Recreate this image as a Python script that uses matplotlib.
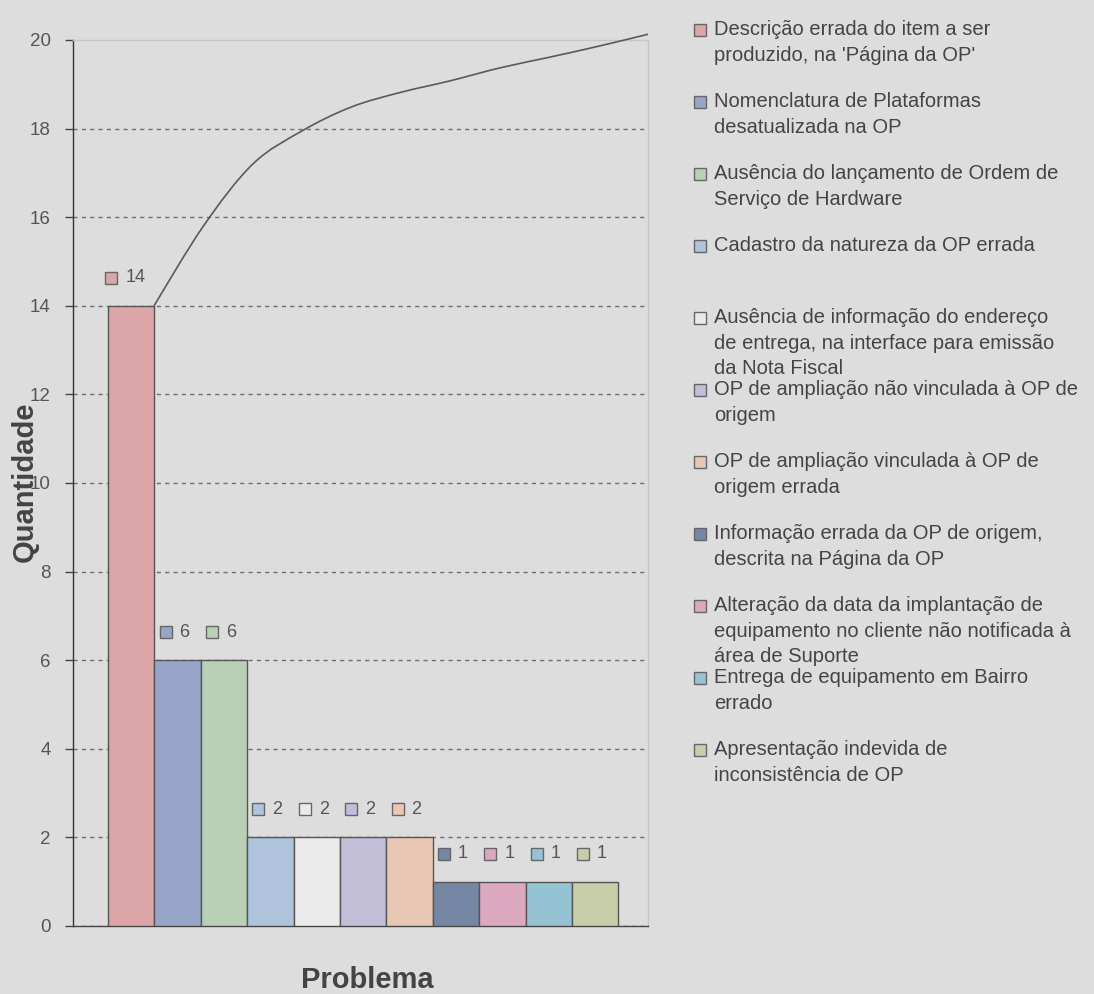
import matplotlib
matplotlib.use("Agg")
import numpy as np
import matplotlib.pyplot as plt
import matplotlib.transforms as mtransforms
from matplotlib.patches import Rectangle, PathPatch
from matplotlib.path import Path

plt.rcParams['font.family'] = ['Liberation Sans', 'DejaVu Sans']

# problemas encontrados e quantidade de ocorrencias
problemas = [
    "Descrição errada do item a ser\nproduzido, na 'Página da OP'",
    "Nomenclatura de Plataformas\ndesatualizada na OP",
    "Ausência do lançamento de Ordem de\nServiço de Hardware",
    "Cadastro da natureza da OP errada",
    "Ausência de informação do endereço\nde entrega, na interface para emissão\nda Nota Fiscal",
    "OP de ampliação não vinculada à OP de\norigem",
    "OP de ampliação vinculada à OP de\norigem errada",
    "Informação errada da OP de origem,\ndescrita na Página da OP",
    "Alteração da data da implantação de\nequipamento no cliente não notificada à\nárea de Suporte",
    "Entrega de equipamento em Bairro\nerrado",
    "Apresentação indevida de\ninconsistência de OP",
]
quantidade = [14, 6, 6, 2, 2, 2, 2, 1, 1, 1, 1]
cores = ['#dca5a8', '#96a5c8', '#b9d0b6', '#afc3dc', '#eaeaea', '#c3bed7',
         '#e8c8b4', '#7687a5', '#dca8c0', '#96c3d4', '#c8cdaa']

# curva acumulada (eixo secundario)
curva = [14.0, 15.8, 17.2, 17.95, 18.49, 18.82, 19.08, 19.37, 19.61, 19.86, 20.13]


def linha_suave(xs, ys):
    # curva de Bezier passando pelos pontos (tangentes tipo Catmull-Rom)
    p = np.column_stack([xs, ys]).astype(float)
    verts = [p[0]]
    codes = [Path.MOVETO]
    n = len(p)
    for i in range(n - 1):
        a = p[i - 1] if i > 0 else p[i]
        b, c = p[i], p[i + 1]
        d = p[i + 2] if i + 2 < n else p[i + 1]
        verts += [b + (c - a) / 6, c - (d - b) / 6, c]
        codes += [Path.CURVE4] * 3
    return Path(verts, codes)


W, H = 1094, 994
fundo = '#dddddd'
fig = plt.figure(figsize=(W / 100, H / 100), dpi=100, facecolor=fundo)
ax = fig.add_axes([73 / W, (H - 926) / H, (648 - 73) / W, (926 - 40) / H])
ax.set_facecolor(fundo)

x = range(len(quantidade))
ax.bar(x, quantidade, width=1.0, color=cores, edgecolor='#555555', linewidth=1.0, zorder=3)
ax.set_xlim(-1.254, 11.14)
ax.set_ylim(0, 20)
ax.set_yticks(range(0, 21, 2))
ax.set_xticks([])

ax.yaxis.grid(True, color='#6e6e6e', linestyle=(0, (3, 3)), linewidth=1.0, zorder=1)
ax.get_ygridlines()[-1].set_visible(False)
ax.tick_params(axis='y', direction='out', length=6, width=1, color='#444444',
               labelcolor='#555555', labelsize=13.5, pad=10)

ax.spines['left'].set_color('#333333')
ax.spines['bottom'].set_color('#444444')
ax.spines['top'].set_color('#c6c6c6')
ax.spines['right'].set_color('#c6c6c6')
for s in ax.spines.values():
    s.set_linewidth(1.0)

# rotulos de dados com a chave de cor
for i, v in enumerate(quantidade):
    extra = 8 * (len(str(v)) - 1)
    off_m = mtransforms.offset_copy(ax.transData, fig=fig, x=-12 - extra, y=28, units='dots')
    off_t = mtransforms.offset_copy(ax.transData, fig=fig, x=2 - extra, y=28, units='dots')
    ax.plot([i], [v], marker='s', markersize=8.5, markerfacecolor=cores[i],
            markeredgecolor='#666666', markeredgewidth=1.0, transform=off_m,
            clip_on=False, zorder=4)
    ax.text(i, v, str(v), transform=off_t, ha='left', va='center',
            fontsize=13, color='#555555', zorder=4)

# linha acumulada
ax2 = ax.twiny()
ax2.set_xlim(-1.64, 10)
ax2.set_ylim(0, 20)
ax2.set_axis_off()
ax2.add_patch(PathPatch(linha_suave(range(len(curva)), curva), facecolor='none',
                        edgecolor='#5a5a5a', linewidth=1.2, clip_on=False))

fig.text(25 / W, (H - 482) / H, 'Quantidade', rotation=90, ha='center', va='center',
         fontsize=21, fontweight='bold', color='#444444')
fig.text(367 / W, (H - 980) / H, 'Problema', ha='center', va='center',
         fontsize=21, fontweight='bold', color='#444444')

# legenda lateral, entradas com espacamento fixo
for k, (nome, cor) in enumerate(zip(problemas, cores)):
    yl = 28 + 72 * k
    fig.add_artist(Rectangle((694 / W, (H - yl - 8) / H), 12 / W, 12 / H,
                             transform=fig.transFigure, facecolor=cor,
                             edgecolor='#666666', linewidth=1.0))
    fig.text(714 / W, (H - yl + 8) / H, nome, ha='left', va='top',
             fontsize=14.5, color='#444444', linespacing=1.45)

fig.savefig('out.png', dpi=100, facecolor=fundo)
